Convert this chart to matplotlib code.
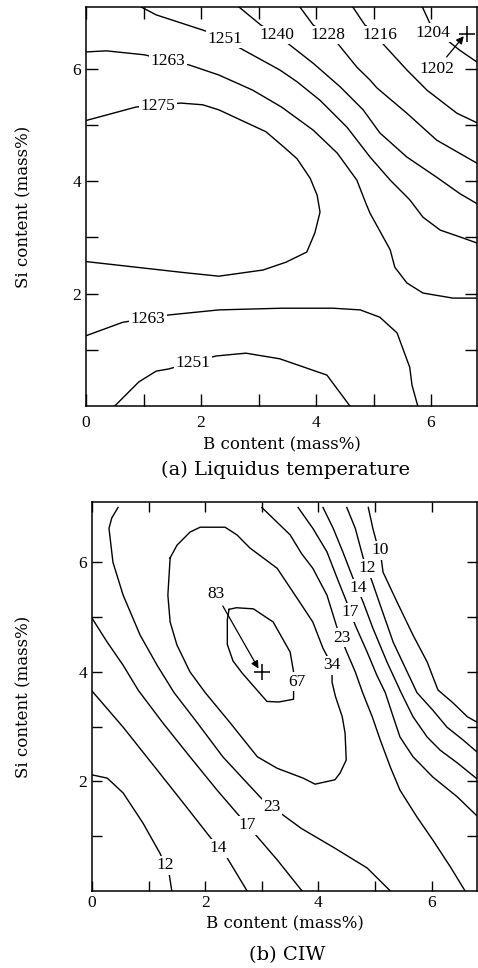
"""
B-Si 조성 지도: (a) 액상선 온도, (b) CIW — 등고선을 (B, Si) mass% 좌표로 추적한 값.
실행: python plot.py  → out.png
"""
import numpy as np
import matplotlib.pyplot as plt

plt.rcParams["font.family"] = ["Liberation Serif", "DejaVu Serif"]

# ── (a) Liquidus temperature: iso-lines as (B, Si) points ─────────────
liq_1275 = [(0, 5.08), (0.87, 5.32), (1.65, 5.39), (2.03, 5.36), (2.31, 5.27),
            (3.13, 4.88), (3.45, 4.6), (3.67, 4.4), (3.9, 4.05), (4.02, 3.75),
            (4.07, 3.45), (3.98, 3.08), (3.84, 2.74), (3.48, 2.56), (3.08, 2.42),
            (2.31, 2.31), (1.74, 2.37), (0.87, 2.47), (0, 2.57)]
liq_1263_top = [(0, 6.3), (0.35, 6.32), (1.01, 6.25), (1.79, 6.07), (2.31, 5.89),
                (2.9, 5.62), (3.4, 5.32), (3.95, 4.91), (4.37, 4.5), (4.71, 4.02),
                (4.87, 3.6), (4.94, 3.43), (5.29, 2.78), (5.37, 2.47), (5.58, 2.19),
                (5.86, 2.01), (6.38, 1.92), (6.8, 1.92)]
liq_1263_bot = [(0, 1.25), (0.64, 1.49), (1.44, 1.62), (2.31, 1.71), (3.4, 1.74),
                (4.3, 1.74), (4.77, 1.71), (5.11, 1.58), (5.41, 1.3), (5.63, 0.69),
                (5.67, 0.37), (5.77, 0)]
liq_1251_top = [(0.96, 7.1), (1.22, 6.96), (2.03, 6.69), (2.42, 6.55), (2.64, 6.39),
                (3.37, 5.98), (3.67, 5.77), (4.07, 5.44), (4.54, 4.96), (4.94, 4.43),
                (5.29, 4.02), (5.63, 3.67), (5.86, 3.36), (6.16, 3.13), (6.5, 3.01),
                (6.8, 2.9)]
liq_1251_bot = [(0.5, 0), (0.92, 0.43), (1.22, 0.62), (1.44, 0.66), (2.26, 0.89),
                (2.78, 0.94), (3.37, 0.84), (4.19, 0.55), (4.59, 0)]
liq_1240 = [(2.66, 7.1), (3.04, 6.78), (3.32, 6.6), (3.5, 6.46), (3.95, 6.1),
            (4.42, 5.68), (4.82, 5.27), (5.11, 4.86), (5.58, 4.43), (6.1, 4.07),
            (6.5, 3.78), (6.8, 3.6)]
liq_1228 = [(3.72, 7.1), (3.95, 6.78), (4.21, 6.6), (4.37, 6.46), (4.71, 6.03),
            (4.94, 5.8), (5.06, 5.66), (5.58, 5.21), (6.1, 4.73), (6.8, 4.32)]
liq_1216 = [(4.64, 7.1), (4.85, 6.78), (5.11, 6.6), (5.15, 6.46), (5.58, 5.98),
            (5.93, 5.62), (6.45, 5.21), (6.8, 5.04)]
liq_1204 = [(5.85, 7.1), (6.03, 6.7), (6.28, 6.51), (6.5, 6.33), (6.8, 6.12)]
liq_min_point = (6.63, 6.62)
liq_min_value = 1202

# (level, line) pairs
liq_lines = [(1275, liq_1275), (1263, liq_1263_top), (1263, liq_1263_bot),
             (1251, liq_1251_top), (1251, liq_1251_bot), (1240, liq_1240),
             (1228, liq_1228), (1216, liq_1216), (1204, liq_1204)]

# ── (b) CIW ───────────────────────────────────────────────────────────
ciw_10 = [(4.88, 7.0), (4.96, 6.62), (5.04, 6.31), (5.09, 6.22), (5.14, 5.82),
          (5.39, 5.27), (5.67, 4.67), (5.92, 4.18), (6.11, 3.67), (6.38, 3.43),
          (6.63, 3.18), (6.82, 3.07)]
ciw_12_r = [(4.5, 7.0), (4.65, 6.62), (4.79, 6.08), (4.95, 5.64), (5.09, 5.22),
            (5.32, 4.54), (5.74, 3.62), (6.02, 3.3), (6.27, 2.99), (6.55, 2.76),
            (6.82, 2.52)]
ciw_14_r = [(4.08, 7.0), (4.26, 6.62), (4.43, 6.19), (4.61, 5.71), (4.79, 5.27),
            (4.96, 4.8), (5.21, 4.18), (5.46, 3.62), (5.67, 3.18), (5.92, 2.81),
            (6.15, 2.57), (6.45, 2.34), (6.82, 2.03)]
ciw_17_r = [(3.64, 7.0), (3.9, 6.62), (4.15, 6.19), (4.33, 5.71), (4.5, 5.27),
            (4.65, 4.85), (4.86, 4.36), (5.03, 3.94), (5.18, 3.62), (5.32, 3.18),
            (5.44, 2.81), (5.67, 2.45), (6.02, 2.08), (6.45, 1.72), (6.82, 1.35)]
ciw_23_r = [(3.0, 7.0), (3.27, 6.73), (3.5, 6.5), (3.7, 6.16), (3.9, 5.89),
            (4.15, 5.4), (4.33, 4.8), (4.5, 4.36), (4.65, 4.0), (4.78, 3.62),
            (4.95, 3.18), (5.09, 2.76), (5.27, 2.26), (5.44, 1.84), (5.74, 1.35),
            (6.02, 0.93), (6.33, 0.44), (6.59, 0)]
ciw_23_l = [(0.46, 7.0), (0.35, 6.81), (0.3, 6.62), (0.37, 6.0), (0.55, 5.4),
            (0.85, 4.67), (1.15, 4.12), (1.45, 3.62), (1.86, 3.07), (2.31, 2.45),
            (2.74, 1.97), (3.02, 1.66), (3.37, 1.39), (3.7, 1.14), (4.26, 0.8),
            (4.86, 0.42), (5.27, 0)]
ciw_17_l = [(0, 4.98), (0.27, 4.54), (0.55, 4.12), (0.82, 3.66), (1.25, 3.07),
            (1.73, 2.45), (2.21, 1.84), (2.56, 1.42), (2.92, 0.99), (3.27, 0.57),
            (3.71, 0)]
ciw_14_l = [(0, 3.65), (0.55, 2.99), (1.15, 2.21), (1.61, 1.61), (2.08, 0.99),
            (2.39, 0.6), (2.74, 0)]
ciw_12_l = [(0, 2.12), (0.27, 2.06), (0.55, 1.79), (0.9, 1.24), (1.2, 0.69),
            (1.36, 0.33), (1.41, 0)]
ciw_34 = [(1.38, 6.08), (1.5, 6.31), (1.73, 6.55), (1.91, 6.64), (2.35, 6.64),
          (2.56, 6.5), (2.79, 6.26), (3.27, 5.89), (3.67, 5.27), (3.9, 4.91),
          (4.08, 4.43), (4.24, 4.12), (4.24, 3.81), (4.3, 3.55), (4.42, 3.18),
          (4.47, 2.88), (4.49, 2.39), (4.38, 2.15), (4.29, 2.03), (3.94, 1.95),
          (3.73, 2.06), (3.27, 2.24), (2.92, 2.45), (2.44, 3.07), (2.0, 3.62),
          (1.73, 4.0), (1.5, 4.49), (1.38, 4.91), (1.34, 5.4), (1.38, 6.08)]
ciw_67 = [(2.42, 5.14), (2.55, 5.17), (2.85, 5.15), (3.2, 4.91), (3.5, 4.36),
          (3.56, 4.0), (3.56, 3.5), (3.3, 3.45), (3.09, 3.46), (2.65, 3.98),
          (2.49, 4.2), (2.39, 4.5), (2.39, 4.95), (2.42, 5.14)]
ciw_max_point = (3.0, 4.0)
ciw_max_value = 83

ciw_lines = [(10, ciw_10), (12, ciw_12_r), (14, ciw_14_r), (17, ciw_17_r),
             (23, ciw_23_r), (23, ciw_23_l), (17, ciw_17_l), (14, ciw_14_l),
             (12, ciw_12_l), (34, ciw_34), (67, ciw_67)]

# 등고선 라벨 위치 (line index, B, Si)
liq_label_at = [(0, 1.25, 5.34), (1, 1.43, 6.14), (2, 1.08, 1.55), (3, 2.42, 6.53),
                (4, 1.86, 0.77), (5, 3.32, 6.6), (6, 4.21, 6.6), (7, 5.11, 6.6),
                (8, 6.03, 6.64)]
ciw_label_at = [(0, 5.09, 6.22), (1, 4.86, 5.89), (2, 4.7, 5.53), (3, 4.56, 5.09),
                (4, 4.42, 4.62), (5, 3.18, 1.53), (6, 2.74, 1.2), (7, 2.23, 0.78),
                (8, 1.29, 0.47), (9, 4.24, 4.12), (10, 3.62, 3.82)]

TEXT_FONT = "DejaVu Serif"


def draw_panel(ax, lines, label_at, ext_point, ext_value, ext_text, ext_head,
               caption, tick_pad_x, tick_len, xl_y, yl_x, cap_xy):
    for level, pts in lines:
        b, si = np.array(pts).T
        ax.plot(b, si, color="k", lw=1.0, solid_joinstyle="round")
    for idx, x, y in label_at:
        level = lines[idx][0]
        ax.text(x, y, f"{level}", ha="center", va="center", fontsize=12.5,
                bbox=dict(boxstyle="square,pad=0.08", fc="white", ec="none"))
    # 극값 위치 (+) 와 화살표
    ax.plot(*ext_point, marker="+", ms=11, mew=1.1, color="k")
    ax.annotate(f"{ext_value}", xy=ext_head, xytext=ext_text, fontsize=12.5,
                ha="center", va="center",
                arrowprops=dict(arrowstyle="-|>", color="k", lw=0.9,
                                mutation_scale=11, shrinkA=1, shrinkB=0))

    ax.set_xlim(0, 6.8); ax.set_ylim(0, 7.1)
    ax.set_xticks([0, 2, 4, 6]); ax.set_xticks([1, 3, 5], minor=True)
    ax.set_yticks([2, 4, 6]); ax.set_yticks([1, 3, 5], minor=True)
    ax.tick_params(which="both", direction="in", length=tick_len, width=1.0,
                   top=True, right=True, labelsize=12.5)
    ax.tick_params(axis="x", pad=tick_pad_x)
    ax.tick_params(axis="y", pad=3.5)
    for s in ax.spines.values():
        s.set_linewidth(1.1)

    ax.set_xlabel("B content (mass%)", family=TEXT_FONT, fontsize=12)
    ax.xaxis.set_label_coords(0.5, xl_y)
    ax.xaxis.label.set_va("center")
    ax.set_ylabel("Si content (mass%)", family=TEXT_FONT, fontsize=12)
    ax.yaxis.set_label_coords(yl_x, 0.5)
    ax.yaxis.label.set_va("center")
    ax.text(cap_xy[0], cap_xy[1], caption, transform=ax.transAxes, ha="center",
            va="center", family=TEXT_FONT, fontsize=14)


fig = plt.figure(figsize=(4.78, 9.68), dpi=100)
ax_a = fig.add_axes([86 / 478, 1 - 406 / 968, 391 / 478, 399 / 968])
ax_b = fig.add_axes([92 / 478, 1 - 891 / 968, 385 / 478, 389 / 968])

draw_panel(ax_a, liq_lines, liq_label_at, liq_min_point, liq_min_value,
           ext_text=(6.1, 6.0), ext_head=(6.57, 6.58),
           caption="(a) Liquidus temperature", tick_pad_x=6.5, tick_len=8.5,
           xl_y=-0.098, yl_x=-0.159, cap_xy=(0.509, -0.160))
draw_panel(ax_b, ciw_lines, ciw_label_at, ciw_max_point, ciw_max_value,
           ext_text=(2.19, 5.42), ext_head=(2.94, 4.06),
           caption="(b) CIW", tick_pad_x=3.0, tick_len=7.5,
           xl_y=-0.085, yl_x=-0.177, cap_xy=(0.506, -0.1645))

fig.savefig("out.png", dpi=100)
